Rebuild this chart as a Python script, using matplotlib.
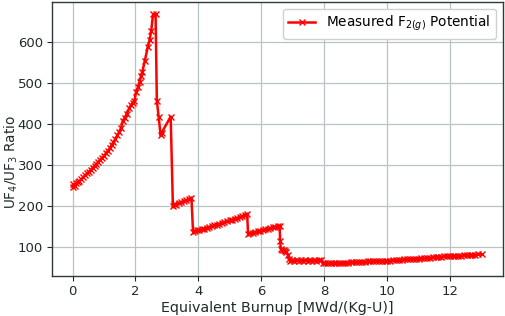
import matplotlib
matplotlib.use("Agg")
import matplotlib.pyplot as plt

burnup = [
    0.00, 0.03, 0.07, 0.12, 0.17, 0.22, 0.28, 0.34, 0.40, 0.46, 0.52, 0.58, 0.64, 0.70,
    0.76, 0.82, 0.88, 0.94, 1.00, 1.06, 1.12, 1.18, 1.24, 1.30, 1.36, 1.42, 1.48, 1.54,
    1.60, 1.66, 1.72, 1.80, 1.86, 1.92, 1.97, 2.02, 2.08, 2.13, 2.18, 2.22, 2.30, 2.39,
    2.45, 2.50, 2.56, 2.64, 2.68, 2.74, 2.80, 2.83, 3.12,
    3.19, 3.23, 3.30, 3.38, 3.46, 3.54, 3.62, 3.70, 3.78,
    3.83, 3.88, 3.95, 4.03, 4.11, 4.19, 4.27, 4.35, 4.43, 4.51, 4.59, 4.67, 4.75, 4.83,
    4.91, 4.99, 5.07, 5.15, 5.23, 5.31, 5.39, 5.47, 5.55,
    5.58, 5.65, 5.73, 5.81, 5.89, 5.97, 6.05, 6.13, 6.21, 6.29, 6.37, 6.45, 6.53, 6.58,
    6.60, 6.62, 6.66, 6.71, 6.76, 6.80, 6.84, 6.88, 6.92,
    6.98, 7.05, 7.12, 7.19, 7.26, 7.33, 7.40, 7.47, 7.54, 7.61, 7.68, 7.75, 7.82, 7.90,
    7.95, 8.03, 8.12, 8.21, 8.30, 8.39, 8.48, 8.57, 8.66, 8.75, 8.84, 8.93, 9.02, 9.11,
    9.20, 9.29, 9.38, 9.47, 9.56, 9.65, 9.74, 9.83, 9.92, 10.01, 10.10, 10.19, 10.28,
    10.37, 10.46, 10.55, 10.64, 10.73, 10.82, 10.91, 11.00, 11.09, 11.18, 11.27, 11.36,
    11.45, 11.54, 11.63, 11.72, 11.81, 11.90, 11.99, 12.08, 12.17, 12.26, 12.35, 12.44,
    12.53, 12.62, 12.71, 12.80, 12.90, 13.03,
]

ratio = [
    247, 252, 249, 255, 257, 261, 265, 270, 274, 279, 283, 288, 293, 297,
    302, 307, 312, 317, 322, 328, 334, 340, 348, 355, 363, 372, 380, 390,
    408, 415, 425, 438, 447, 452, 457, 478, 490, 502, 518, 528, 555, 588,
    605, 627, 668, 668, 457, 416, 372, 378, 418,
    200, 204, 203, 207, 209, 211, 213, 216, 219,
    137, 138, 140, 140, 142, 144, 146, 148, 150, 152, 154, 156, 158, 160,
    162, 164, 166, 168, 170, 172, 174, 177, 180,
    131, 133, 134, 136, 138, 139, 141, 142, 144, 145, 147, 148, 150, 151,
    115, 94, 92, 91, 90, 88, 80, 70, 66,
    67, 66, 67, 66, 67, 66, 67, 66, 67, 66, 67, 66, 67, 67,
    60, 59, 59, 59, 60, 60, 60, 61, 61, 61, 62, 62, 62, 63,
    63, 63, 64, 64, 64, 65, 65, 65, 66, 66, 66, 67, 67,
    68, 68, 69, 69, 70, 70, 71, 71, 72, 72, 73, 73,
    74, 74, 75, 75, 76, 76, 77, 77, 78, 78, 78, 79,
    79, 80, 80, 80, 81, 81,
]

series_label = "Measured F$_{2(g)}$ Potential"
x_label = "Equivalent Burnup [MWd/(Kg-U)]"
y_label = "UF$_4$/UF$_3$ Ratio"

text_color = "#1f2b2b"
spine_color = "#2f3b3b"
fig = plt.figure(figsize=(5.05, 3.16), dpi=100)
ax = fig.add_axes([0.103, 0.127, 0.893, 0.867])
ax.plot(burnup, ratio, color="red", lw=1.8, marker="x", markersize=4,
        markeredgewidth=1.0, label=series_label)
ax.grid(True, color="#b8c4c4", lw=0.9)
ax.set_axisbelow(True)
ax.set_xticks([0, 2, 4, 6, 8, 10, 12])
ax.set_yticks([100, 200, 300, 400, 500, 600])
for s in ax.spines.values():
    s.set_color(spine_color)
    s.set_linewidth(1.0)
ax.tick_params(colors=text_color, labelsize=9.5, length=3.5, pad=3)
ax.set_xlabel(x_label, fontsize=10.3, color=text_color, labelpad=2)
ax.set_ylabel(y_label, fontsize=9.8, color=text_color)
ax.yaxis.set_label_coords(-0.072, 0.416)
leg = ax.legend(loc="upper right", fontsize=9.8, framealpha=1, edgecolor="#d0d0d0",
                fancybox=True)
fig.savefig("out.png", dpi=100)
